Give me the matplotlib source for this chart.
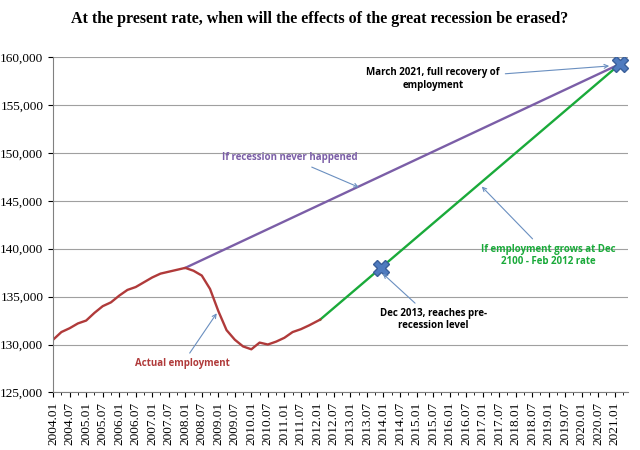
import numpy as np
import matplotlib.pyplot as plt
from matplotlib.ticker import FuncFormatter

# months counted from 2004.01 (index 0)
actual_months = [0, 3, 6, 9, 12, 15, 18, 21, 24, 27, 30, 33, 36, 39, 42, 45, 48,
                 51, 54, 57, 60, 63, 66, 69, 72, 75, 78, 81, 84, 87, 90, 93, 97]
actual_values = [130500, 131300, 131700, 132200, 132500, 133300, 134000, 134400,
                 135100, 135700, 136000, 136500, 137000, 137400, 137600, 137800,
                 138000, 137700, 137200, 135800, 133500, 131500, 130500, 129800,
                 129500, 130200, 130000, 130300, 130700, 131300, 131600, 132000, 132600]
trend_months = [48, 206]
trend_values = [138000, 159300]
growth_months = [97, 206]
growth_values = [132600, 159300]
marker_months = [119, 206]
marker_values = [138000, 159300]

serif = ['Liberation Serif', 'DejaVu Serif']
sans = ['Open Sans', 'DejaVu Sans']

fig, ax = plt.subplots(figsize=(6.4, 4.5), dpi=100)
fig.subplots_adjust(left=0.083, right=0.982, top=0.873, bottom=0.128)

ax.plot(trend_months, trend_values, color='#7b5ea7', lw=1.7)
ax.plot(growth_months, growth_values, color='#1aaa3a', lw=1.7)
ax.plot(actual_months, actual_values, color='#b03a3a', lw=1.7)
ax.plot(marker_months, marker_values, 'X', color='#4f7bbf', ms=12, mec='#3a5f9a')

ax.set_xlim(0, 209)
ax.set_ylim(125000, 160000)
ax.set_yticks(np.arange(125000, 160001, 5000))
ax.yaxis.set_major_formatter(FuncFormatter(lambda v, p: f'{int(v):,}'))
ax.grid(axis='y', color='#a0a0a0', lw=0.8)
ax.set_axisbelow(True)

ticks = np.arange(0, 205, 6)
ax.set_xticks(ticks)
ax.set_xticklabels([f'{2004 + t // 12}.{t % 12 + 1:02d}' for t in ticks], rotation=90)
ax.set_xticks(np.arange(0, 209, 3), minor=True)
for lab in ax.get_xticklabels() + ax.get_yticklabels():
    lab.set_family(serif)
    lab.set_fontsize(9.5)
for s in ['top', 'right']:
    ax.spines[s].set_visible(False)
ax.spines['left'].set_color('#808080')
ax.spines['bottom'].set_color('#808080')

fig.suptitle('At the present rate, when will the effects of the great recession be erased?',
             family=serif, fontweight='bold', fontsize=11.5, y=0.975)

arrow = dict(arrowstyle='->', color='#6a8fc0', lw=0.8)
ax.annotate('March 2021, full recovery of\nemployment', xy=(203, 159100), xytext=(138, 157700),
            ha='center', va='center', fontsize=7, fontweight='bold', family=sans, arrowprops=arrow)
ax.annotate('If recession never happened', xy=(112, 146300), xytext=(86, 149500),
            ha='center', va='center', fontsize=7, fontweight='bold', family=sans,
            color='#7b5ea7', arrowprops=arrow)
ax.annotate('If employment grows at Dec\n2100 - Feb 2012 rate', xy=(155, 146700), xytext=(180, 139300),
            ha='center', va='center', fontsize=7, fontweight='bold', family=sans,
            color='#1aaa3a', arrowprops=arrow)
ax.annotate('Dec 2013, reaches pre-\nrecession level', xy=(119, 137600), xytext=(138, 132600),
            ha='center', va='center', fontsize=7, fontweight='bold', family=sans, arrowprops=arrow)
ax.annotate('Actual employment', xy=(60, 133500), xytext=(47, 128000),
            ha='center', va='center', fontsize=7, fontweight='bold', family=sans,
            color='#b03a3a', arrowprops=arrow)

fig.savefig('out.png')
